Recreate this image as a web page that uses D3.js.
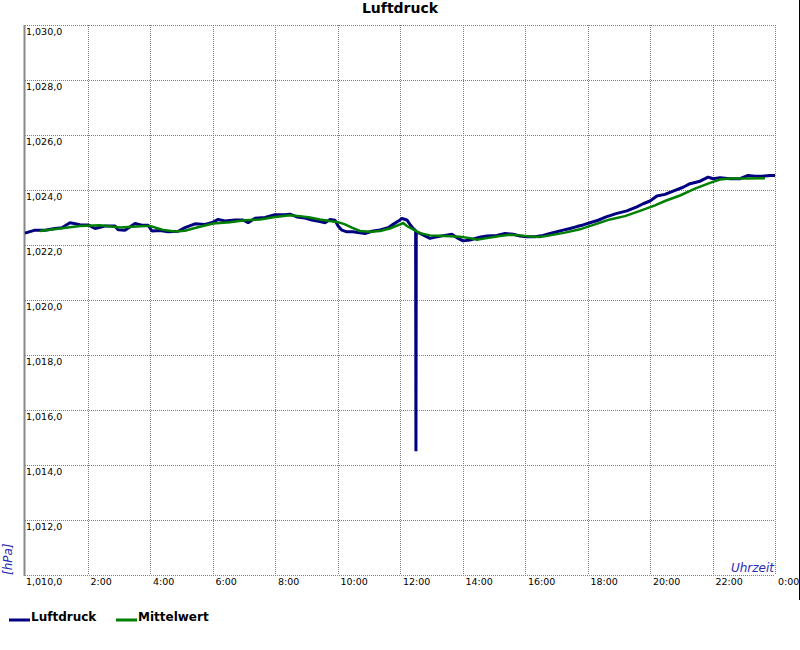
<!DOCTYPE html>
<html><head><meta charset="utf-8">
<script src="https://cdn.jsdelivr.net/npm/d3@7"></script>
<style>
body{margin:0;background:#fff;}
svg{display:block;font-family:"DejaVu Sans",Verdana,sans-serif;}
</style></head>
<body><svg id="c" width="800" height="650"></svg>
<script>
// ---- data ----
const luftTime = [0.00,0.32,0.64,0.96,1.18,1.44,1.76,2.02,2.24,2.56,2.88,2.98,3.20,3.52,3.74,3.94,4.06,4.32,4.58,4.90,5.12,5.44,5.76,6.02,6.18,6.40,6.72,6.98,7.14,7.36,7.68,8.00,8.32,8.48,8.70,8.96,9.18,9.44,9.60,9.76,9.92,10.02,10.14,10.30,10.50,10.66,10.88,11.10,11.36,11.62,11.78,12.00,12.06,12.22,12.32,12.42,12.50,12.51,12.52,12.64,12.80,12.96,13.18,13.44,13.66,13.86,14.02,14.24,14.50,14.78,15.10,15.36,15.62,15.84,16.06,16.32,16.58,16.80,17.02,17.22,17.44,17.66,17.86,18.08,18.34,18.62,18.94,19.26,19.58,19.78,20.00,20.22,20.48,20.74,21.06,21.28,21.60,21.86,22.02,22.24,22.56,22.88,23.14,23.36,23.58,23.84,24.00];
const luftValues = [1022.43,1022.54,1022.54,1022.60,1022.63,1022.81,1022.74,1022.73,1022.60,1022.69,1022.69,1022.55,1022.54,1022.78,1022.72,1022.72,1022.51,1022.53,1022.48,1022.50,1022.63,1022.77,1022.75,1022.83,1022.93,1022.87,1022.91,1022.91,1022.81,1022.97,1023.00,1023.10,1023.10,1023.12,1023.02,1022.98,1022.91,1022.85,1022.81,1022.93,1022.90,1022.69,1022.54,1022.48,1022.48,1022.45,1022.42,1022.50,1022.55,1022.63,1022.75,1022.91,1022.97,1022.91,1022.75,1022.60,1022.52,1014.50,1022.47,1022.42,1022.33,1022.24,1022.30,1022.35,1022.39,1022.24,1022.15,1022.18,1022.27,1022.33,1022.35,1022.42,1022.39,1022.33,1022.30,1022.30,1022.35,1022.42,1022.48,1022.54,1022.60,1022.67,1022.73,1022.81,1022.90,1023.03,1023.15,1023.24,1023.39,1023.50,1023.60,1023.78,1023.84,1023.96,1024.10,1024.23,1024.32,1024.47,1024.41,1024.45,1024.41,1024.41,1024.53,1024.50,1024.50,1024.53,1024.53];
const meanTime = [0.48,1.12,1.76,2.40,3.04,3.84,4.00,4.42,4.80,5.12,5.44,6.02,6.56,7.04,7.52,8.00,8.48,8.80,9.12,9.44,9.76,10.02,10.24,10.46,10.72,11.04,11.36,11.68,12.00,12.10,12.22,12.42,12.64,12.96,13.44,13.92,14.24,14.46,14.78,15.20,15.52,15.84,16.16,16.48,16.80,17.28,17.76,18.24,18.72,19.20,19.68,20.16,20.48,20.96,21.44,21.92,22.24,22.56,23.04,23.68];
const meanValues = [1022.51,1022.60,1022.69,1022.72,1022.64,1022.69,1022.69,1022.55,1022.49,1022.52,1022.62,1022.78,1022.83,1022.90,1022.93,1023.02,1023.08,1023.05,1023.00,1022.93,1022.87,1022.83,1022.75,1022.63,1022.51,1022.48,1022.51,1022.60,1022.75,1022.80,1022.69,1022.57,1022.43,1022.35,1022.33,1022.30,1022.25,1022.19,1022.25,1022.33,1022.37,1022.35,1022.31,1022.29,1022.35,1022.45,1022.57,1022.75,1022.93,1023.05,1023.24,1023.44,1023.60,1023.80,1024.05,1024.26,1024.38,1024.42,1024.42,1024.43];
const yTicks = [1010,1012,1014,1016,1018,1020,1022,1024,1026,1028,1030];
const yTickLabels = ["1,010,0","1,012,0","1,014,0","1,016,0","1,018,0","1,020,0","1,022,0","1,024,0","1,026,0","1,028,0","1,030,0"];
const xTicks = [2,4,6,8,10,12,14,16,18,20,22,24];
const xTickLabels = ["2:00","4:00","6:00","8:00","10:00","12:00","14:00","16:00","18:00","20:00","22:00","0:00"];
const seriesNames = ["Luftdruck","Mittelwert"];
const seriesColors = ["#000080","#008000"];

// ---- chart ----
const svg = d3.select("#c");
const L=25,R=775,T=25,B=575;
const x = d3.scaleLinear().domain([0,24]).range([L,R]);
const y = d3.scaleLinear().domain([1010,1030]).range([B,T]);

// grid
const grid = svg.append("g");
grid.selectAll("line.h").data(yTicks).join("line")
  .attr("x1",L).attr("x2",R).attr("y1",d=>y(d)+0.5).attr("y2",d=>y(d)+0.5)
  .attr("stroke","#808080").attr("stroke-dasharray","1,1");
grid.selectAll("line.v").data(xTicks).join("line")
  .attr("x1",d=>Math.round(x(d))+0.5).attr("x2",d=>Math.round(x(d))+0.5).attr("y1",T).attr("y2",B)
  .attr("stroke","#808080").attr("stroke-dasharray","1,1");

// left axis line
svg.append("line").attr("x1",24.5).attr("x2",24.5).attr("y1",T).attr("y2",B+1)
  .attr("stroke","#888").attr("stroke-width",2);

// y tick labels
svg.append("g").selectAll("text").data(yTicks).join("text")
  .attr("x",26).attr("y",d=>y(d)+9.5)
  .attr("font-size",9.5).attr("fill","#000")
  .text((d,i)=>yTickLabels[i]);

// x tick labels
svg.append("g").selectAll("text").data(xTicks).join("text")
  .attr("x",d=>x(d)+3).attr("y",B+9.5)
  .attr("font-size",9.5).attr("fill","#000")
  .text((d,i)=>xTickLabels[i]);

// lines
const line = d3.line().x(d=>x(d[0])).y(d=>y(d[1]));
svg.append("path").datum(luftTime.map((t,i)=>[t,luftValues[i]]))
  .attr("d",line).attr("fill","none").attr("stroke",seriesColors[0]).attr("stroke-width",3)
  .attr("stroke-linejoin","miter").attr("stroke-miterlimit",1);
svg.append("path").datum(meanTime.map((t,i)=>[t,meanValues[i]]))
  .attr("d",line).attr("fill","none").attr("stroke",seriesColors[1]).attr("stroke-width",2.5);

// title
svg.append("text").attr("x",400).attr("y",13).attr("text-anchor","middle")
  .attr("font-size",14).attr("font-weight","bold").text("Luftdruck");

// axis titles
svg.append("text").attr("transform","translate(12,575) rotate(-90)")
  .attr("font-size",12).attr("font-style","italic").attr("fill","#2a2ab8").text("[hPa]");
svg.append("text").attr("x",774).attr("y",572).attr("text-anchor","end")
  .attr("font-size",12).attr("font-style","italic").attr("fill","#2a2ab8").text("Uhrzeit");

// right border line
svg.append("line").attr("x1",799.5).attr("x2",799.5).attr("y1",0).attr("y2",600)
  .attr("stroke","#000").attr("stroke-width",1);

// legend
const legX = [9,116];
const leg = svg.append("g");
seriesNames.forEach((n,i)=>{
  leg.append("line").attr("x1",legX[i]).attr("x2",legX[i]+21).attr("y1",620).attr("y2",620)
    .attr("stroke",seriesColors[i]).attr("stroke-width",3);
  leg.append("text").attr("x",legX[i]+22).attr("y",621).attr("font-size",12)
    .attr("font-weight","bold").text(n);
});
</script></body></html>
